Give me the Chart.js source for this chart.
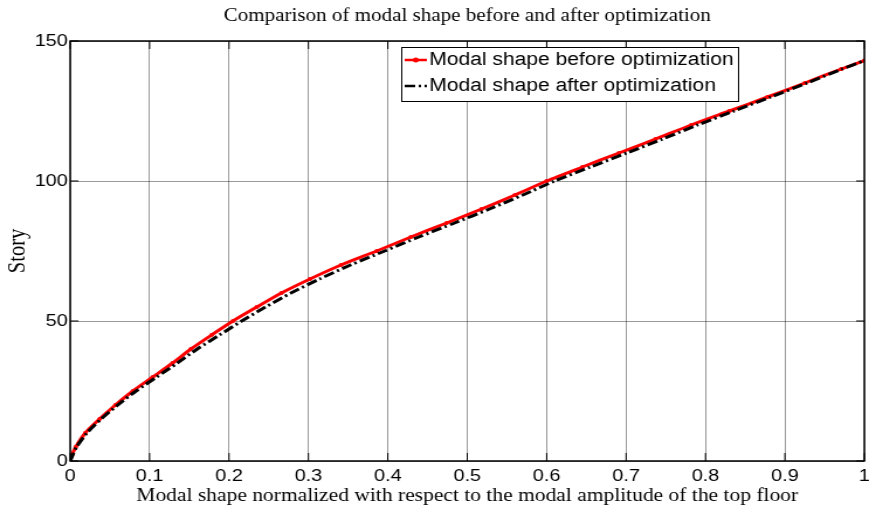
<!DOCTYPE html>
<html>
<head>
<meta charset="utf-8">
<script src="https://cdn.jsdelivr.net/npm/chart.js@4.4.1/dist/chart.umd.min.js"></script>
<style>
  html, body { margin: 0; padding: 0; background: #fff; }
</style>
</head>
<body>
<canvas id="modalChart" width="743" height="511" style="display:block;width:869px;height:511px"></canvas>
<script>
// story levels (y) and modal shape (x)
const stories = [0, 2, 5, 10, 15, 20, 25, 30, 35, 40, 45, 50, 55, 60, 65, 70, 75, 80, 85, 90, 95, 100, 105, 110, 115, 120, 125, 130, 135, 140, 143];
const beforeShape = [0, 0.002, 0.007, 0.019, 0.037, 0.057, 0.079, 0.104, 0.129, 0.152, 0.178, 0.205, 0.235, 0.266, 0.302, 0.341, 0.386, 0.429, 0.474, 0.518, 0.56, 0.6, 0.645, 0.691, 0.737, 0.782, 0.83, 0.878, 0.925, 0.971, 1.0];
const afterShape = [0, 0.003, 0.008, 0.021, 0.039, 0.06, 0.083, 0.109, 0.135, 0.16, 0.188, 0.216, 0.246, 0.278, 0.314, 0.353, 0.396, 0.439, 0.484, 0.528, 0.57, 0.61, 0.655, 0.701, 0.746, 0.79, 0.836, 0.882, 0.928, 0.972, 1.0];
const xTicks = [0, 0.1, 0.2, 0.3, 0.4, 0.5, 0.6, 0.7, 0.8, 0.9, 1];
const yTicks = [0, 50, 100, 150];
const seriesNames = ['Modal shape before optimization', 'Modal shape after optimization'];

const sans = 'Liberation Sans, Arial, sans-serif';
const serif = 'Liberation Serif, Times New Roman, serif';

const toPoints = (xs) => xs.map((x, i) => ({ x: x, y: stories[i] }));

// matlab style box, inward ticks and the legend box
const matlabAxes = {
    id: 'matlabAxes',
    afterDraw(chart) {
        const { ctx, chartArea: a, scales } = chart;
        ctx.save();
        ctx.strokeStyle = '#000';
        ctx.lineWidth = 1;
        ctx.beginPath();
        xTicks.forEach(v => {
            const px = scales.x.getPixelForValue(v);
            ctx.moveTo(px, a.bottom); ctx.lineTo(px, a.bottom - 8);
            ctx.moveTo(px, a.top); ctx.lineTo(px, a.top + 8);
        });
        yTicks.forEach(v => {
            const py = scales.y.getPixelForValue(v);
            ctx.moveTo(a.left, py); ctx.lineTo(a.left + 7, py);
            ctx.moveTo(a.right, py); ctx.lineTo(a.right - 7, py);
        });
        ctx.stroke();
        ctx.lineWidth = 1.5;
        ctx.strokeRect(a.left, a.top, a.right - a.left, a.bottom - a.top);

        // legend
        const lx = 343, ly = 47, lw = 288, lh = 54;
        ctx.fillStyle = '#fff';
        ctx.fillRect(lx, ly, lw, lh);
        ctx.lineWidth = 1;
        ctx.strokeRect(lx + 0.5, ly + 0.5, lw, lh);
        ctx.font = '18px ' + sans;
        ctx.textBaseline = 'middle';
        chart.data.datasets.forEach((ds, i) => {
            const y = ly + 13 + i * 26;
            ctx.strokeStyle = ds.borderColor;
            ctx.lineWidth = 2.5;
            ctx.setLineDash(ds.borderDash || []);
            ctx.beginPath();
            ctx.moveTo(lx + 3, y); ctx.lineTo(lx + 22, y);
            ctx.stroke();
            ctx.setLineDash([]);
            if (ds.pointRadius > 0) {
                ctx.fillStyle = ds.borderColor;
                ctx.beginPath();
                ctx.arc(lx + 12.5, y, 2.5, 0, Math.PI * 2);
                ctx.fill();
            }
            ctx.fillStyle = '#000';
            ctx.fillText(ds.label, lx + 24, y);
        });
        ctx.restore();
    }
};

new Chart(document.getElementById('modalChart'), {
    type: 'scatter',
    data: {
        datasets: [
            {
                label: seriesNames[0],
                data: toPoints(beforeShape),
                showLine: true,
                tension: 0.25,
                borderColor: '#ff0000',
                backgroundColor: '#ff0000',
                borderWidth: 3,
                pointRadius: 2,
                pointBorderWidth: 0,
                order: 2
            },
            {
                label: seriesNames[1],
                data: toPoints(afterShape),
                showLine: true,
                tension: 0.25,
                borderColor: '#000000',
                backgroundColor: '#000000',
                borderWidth: 3,
                borderDash: [9, 3, 2, 3],
                pointRadius: 0,
                order: 1
            }
        ]
    },
    options: {
        responsive: false,
        animation: false,
        devicePixelRatio: 1,
        layout: { padding: { left: 0, right: 1, top: 0, bottom: 0 } },
        plugins: {
            legend: { display: false },
            tooltip: { enabled: false },
            title: {
                display: true,
                fullSize: false,
                text: 'Comparison of modal shape before and after optimization',
                color: '#000',
                font: { family: serif, size: 18, weight: 'normal' },
                padding: { top: 5, bottom: 14.4 }
            }
        },
        scales: {
            x: {
                type: 'linear',
                min: 0,
                max: 1,
                afterBuildTicks: s => { s.ticks = xTicks.map(v => ({ value: v })); },
                afterFit: s => { s.height = 50; s.paddingLeft = 0; s.paddingRight = 0; },
                ticks: {
                    color: '#000',
                    font: { family: sans, size: 17 },
                    padding: 5,
                    maxRotation: 0,
                    autoSkip: false,
                    callback: v => String(Number(v.toFixed(1)))
                },
                grid: { color: 'rgba(0,0,0,0.4)', lineWidth: 1, drawTicks: false },
                border: { display: false },
                title: {
                    display: true,
                    text: 'Modal shape normalized with respect to the modal amplitude of the top floor',
                    color: '#000',
                    font: { family: serif, size: 18.4 },
                    padding: { top: 0, bottom: 4 }
                }
            },
            y: {
                type: 'linear',
                min: 0,
                max: 150,
                afterBuildTicks: s => { s.ticks = yTicks.map(v => ({ value: v })); },
                afterFit: s => { s.width = 60; s.paddingTop = 0; s.paddingBottom = 0; },
                ticks: {
                    color: '#000',
                    font: { family: sans, size: 17 },
                    padding: 2
                },
                grid: { color: 'rgba(0,0,0,0.4)', lineWidth: 1, drawTicks: false },
                border: { display: false },
                title: {
                    display: true,
                    text: 'Story',
                    color: '#000',
                    font: { family: serif, size: 20.5 },
                    padding: { top: 3, bottom: 0 }
                }
            }
        }
    },
    plugins: [matlabAxes]
});
</script>
</body>
</html>
